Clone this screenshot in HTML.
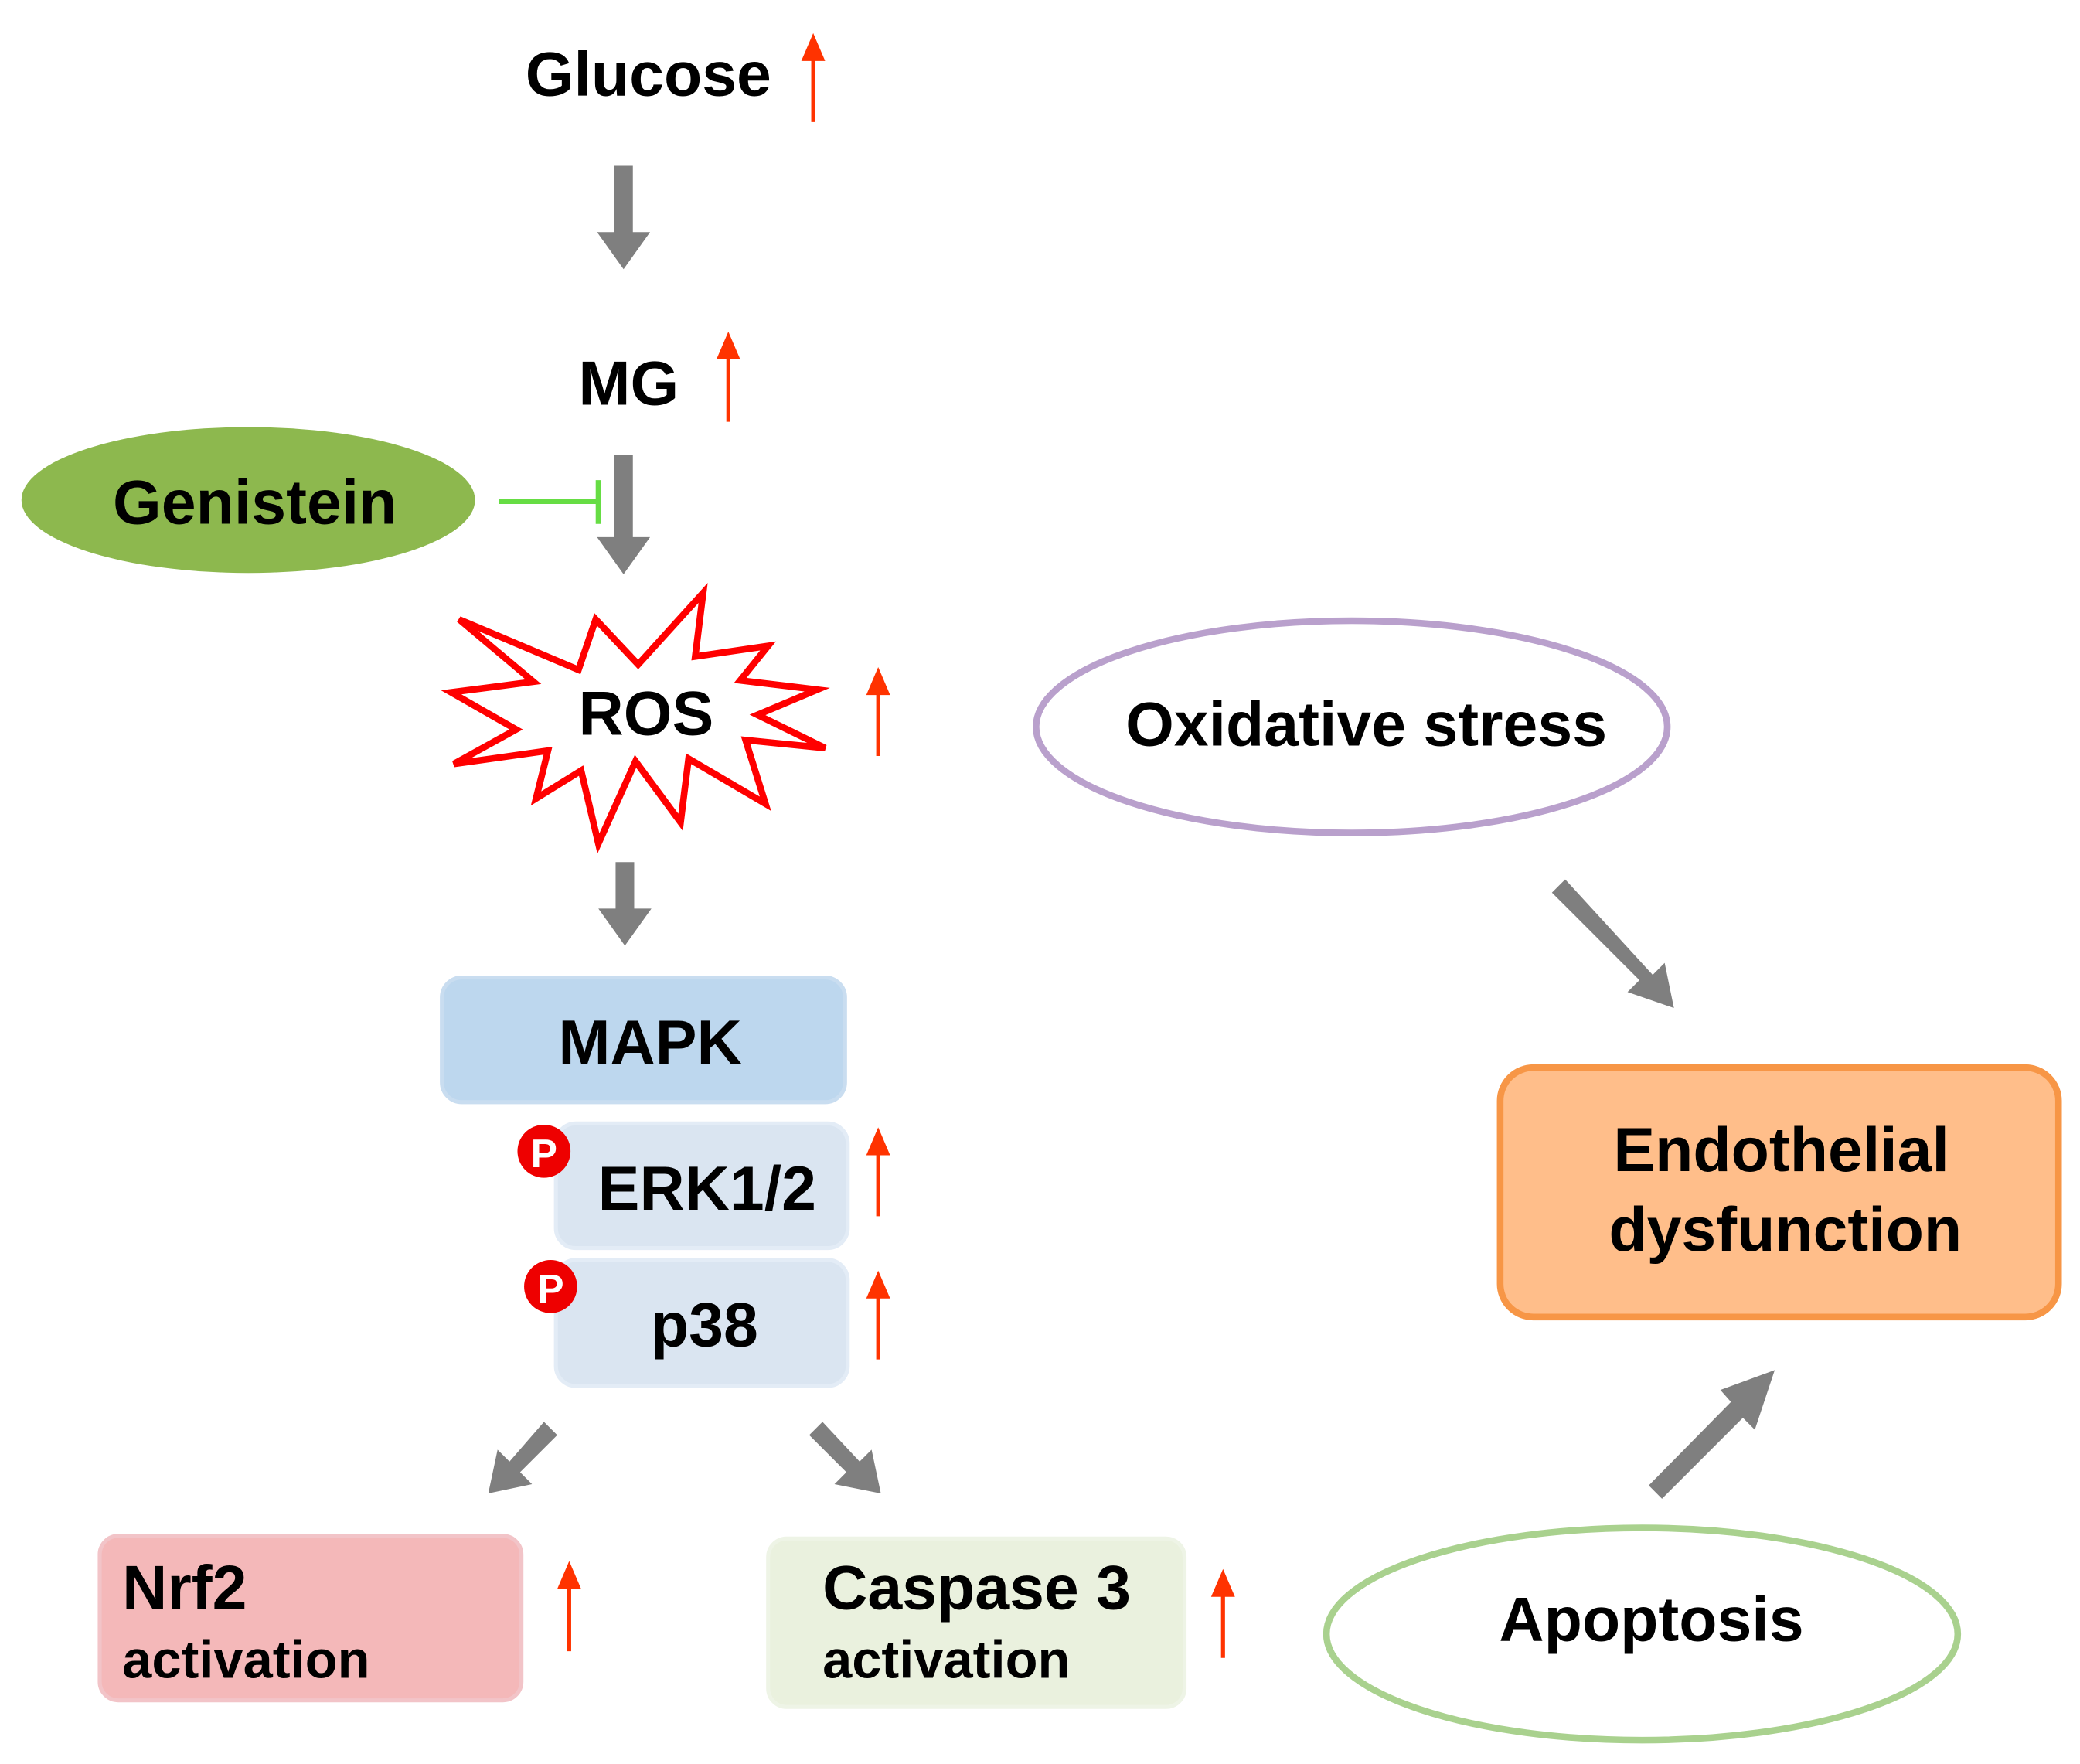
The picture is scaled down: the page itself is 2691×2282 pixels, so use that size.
<!DOCTYPE html>
<html><head><meta charset="utf-8"><style>html,body{margin:0;padding:0;background:#fff}svg{display:block}text{font-family:"Liberation Sans",Arial,sans-serif;font-weight:bold;fill:#000}</style></head>
<body>
<svg width="2691" height="2282" viewBox="0 0 1568 1330" xmlns="http://www.w3.org/2000/svg">
<g stroke="#ff3300" stroke-width="3" fill="#ff3300">
<line x1="613" y1="92" x2="613" y2="40"/><path d="M604,46 L613,25 L622,46 Z" stroke="none"/>
<line x1="549" y1="318" x2="549" y2="265"/><path d="M540,271 L549,250 L558,271 Z" stroke="none"/>
<line x1="662" y1="570" x2="662" y2="518"/><path d="M653,524 L662,503 L671,524 Z" stroke="none"/>
<line x1="662" y1="917" x2="662" y2="865"/><path d="M653,871 L662,850 L671,871 Z" stroke="none"/>
<line x1="662" y1="1025" x2="662" y2="973"/><path d="M653,979 L662,958 L671,979 Z" stroke="none"/>
<line x1="429" y1="1245" x2="429" y2="1192"/><path d="M420,1198 L429,1177 L438,1198 Z" stroke="none"/>
<line x1="922" y1="1250" x2="922" y2="1198"/><path d="M913,1204 L922,1183 L931,1204 Z" stroke="none"/>
</g>
<text x="396" y="72" font-size="47">Glucose</text>
<path d="M463,125 L477,125 L477,175 L490,175 L470,203 L450,175 L463,175 Z" fill="#7f7f7f"/>
<text x="436" y="305" font-size="47">MG</text>
<ellipse cx="187" cy="377" rx="171" ry="55" fill="#8db84e"/>
<text x="192" y="395" font-size="47" text-anchor="middle">Genistein</text>
<line x1="376" y1="378" x2="450" y2="378" stroke="#66dd44" stroke-width="4"/>
<line x1="451" y1="362" x2="451" y2="395" stroke="#66dd44" stroke-width="4"/>
<path d="M463,343 L477,343 L477,405 L490,405 L470,433 L450,405 L463,405 Z" fill="#7f7f7f"/>
<polygon points="346,467 436,505 449,467 481,501 530,447 524,495 579,487 558,513 616,520 571,539 622,564 562,558 577,606 519,572 513,620 479,574 451,636 438,581 404,602 413,566 342,576 389,550 340,522 402,514" fill="#fff" stroke="#ff0000" stroke-width="5" stroke-linejoin="miter"/>
<text x="487" y="554" font-size="47" text-anchor="middle">ROS</text>
<ellipse cx="1019" cy="548" rx="238" ry="80" fill="none" stroke="#b9a0cc" stroke-width="5"/>
<text x="1030" y="562" font-size="47" text-anchor="middle">Oxidative stress</text>
<path d="M464,650 L478,650 L478,685 L491,685 L471,713 L451,685 L464,685 Z" fill="#7f7f7f"/>
<rect x="333" y="737" width="304" height="94" rx="15" fill="#bdd7ee" stroke="#c9ddf0" stroke-width="3"/>
<text x="490" y="802" font-size="47" text-anchor="middle">MAPK</text>
<rect x="419" y="847" width="220" height="94" rx="15" fill="#dae5f1" stroke="#e3ecf6" stroke-width="3"/>
<text x="533" y="912" font-size="47" text-anchor="middle">ERK1/2</text>
<circle cx="410" cy="868" r="20" fill="#ee0000"/><text x="410" y="880" font-size="30" style="fill:#fff" text-anchor="middle">P</text>
<rect x="419" y="950" width="220" height="95" rx="15" fill="#dae5f1" stroke="#e3ecf6" stroke-width="3"/>
<text x="531" y="1015" font-size="47" text-anchor="middle">p38</text>
<circle cx="415" cy="970" r="20" fill="#ee0000"/><text x="415" y="982" font-size="30" style="fill:#fff" text-anchor="middle">P</text>
<path d="M410,1072 L420,1082 L392,1110 L401,1119 L368,1126 L375,1093 L384,1102 Z" fill="#7f7f7f"/>
<path d="M620,1072 L610,1082 L638,1110 L629,1119 L664,1126 L657,1093 L648,1102 Z" fill="#7f7f7f"/>
<path d="M1180,663 L1170,673 L1236,739 L1227,748 L1262,760 L1255,726 L1246,735 Z" fill="#7f7f7f"/>
<path d="M1243,1120 L1253,1130 L1314,1069 L1323,1078 L1338,1033 L1297,1048 L1305,1057 Z" fill="#7f7f7f"/>
<rect x="75" y="1158" width="318" height="124" rx="14" fill="#f4b8b9" stroke="#f2c4c8" stroke-width="3"/>
<text x="92" y="1213" font-size="47">Nrf2</text>
<text x="92" y="1265" font-size="40">activation</text>
<rect x="579" y="1160" width="314" height="127" rx="14" fill="#eaf1de" stroke="#eef4e6" stroke-width="3"/>
<text x="620" y="1213" font-size="47">Caspase 3</text>
<text x="620" y="1265" font-size="40">activation</text>
<ellipse cx="1238" cy="1232" rx="238" ry="80" fill="none" stroke="#a9d18e" stroke-width="5"/>
<text x="1245" y="1237" font-size="47" text-anchor="middle">Apoptosis</text>
<rect x="1131" y="805" width="421" height="188" rx="25" fill="#ffbe8a" stroke="#f79646" stroke-width="5"/>
<text x="1343" y="883" font-size="47" text-anchor="middle">Endothelial</text>
<text x="1346" y="943" font-size="47" text-anchor="middle">dysfunction</text>
</svg>
</body></html>
